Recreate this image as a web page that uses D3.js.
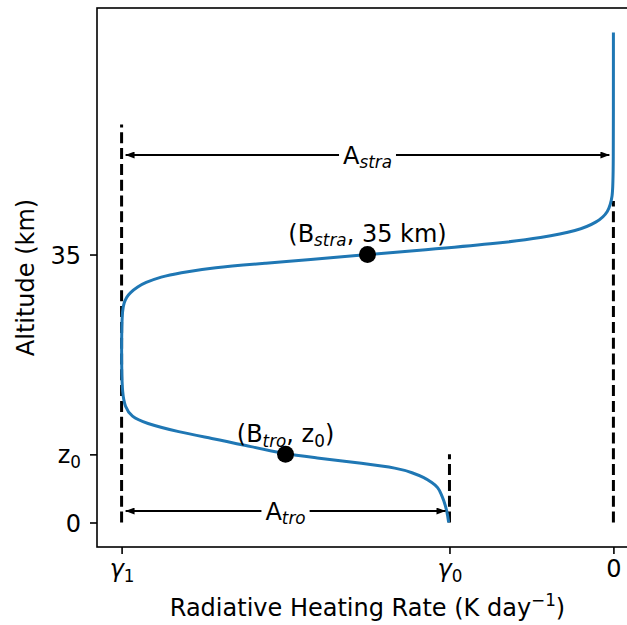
<!DOCTYPE html>
<html>
<head>
<meta charset="utf-8">
<script src="https://cdn.jsdelivr.net/npm/d3@7"></script>
<style>
body { margin: 0; background: #fff; }
text { font-family: "DejaVu Sans", sans-serif; fill: #000; }
</style>
</head>
<body>
<div id="chart"></div>
<script>
// Heating rate profile (altitude in km, rate in K/day)
let altitude = [0, 1.5, 2.9, 3.7, 4.6, 5.2, 5.9, 6.5, 7.1, 7.7, 8.5, 8.9, 10.1, 11.0, 11.8, 13.0,
    13.8, 15.1, 16.9, 20, 25, 27.8, 28.7, 29.4, 30.0, 30.8, 31.3, 32.1, 32.6, 33.3, 33.9, 34.3,
    35.0, 35.6, 36.4, 37.2, 38.1, 39.2, 40.5, 42.6, 45, 64];
let heatingRate = [-1.005, -1.015, -1.035, -1.05, -1.07, -1.105, -1.157, -1.225, -1.315, -1.52,
    -1.83, -2.0, -2.25, -2.45, -2.65, -2.86, -2.94, -2.98, -2.995, -3.0, -3.0, -2.995, -2.985,
    -2.97, -2.95, -2.90, -2.86, -2.76, -2.65, -2.45, -2.10, -1.87, -1.5, -1.16, -0.73, -0.43,
    -0.22, -0.10, -0.03, -0.005, 0, 0];

// Ticks (value + label with optional subscript)
let rateTicks = [-3, -1, 0];
let rateTickText = [["γ", "1"], ["γ", "0"], ["0", ""]];
let altTicks = [0, 8.9, 35];
let altTickText = [["0", ""], ["z", "0"], ["35", ""]];

// Dashed reference lines: rate and top altitude
let refRates = [-3, -1, 0];
let refTops = [52, 8.9, 42];

// Double arrows for A_tro and A_stra
let spanFrom = [-3, -3];
let spanTo = [-1, 0];
let spanAlt = [1.5, 48];
let spanMid = [-2, -1.5];
let spanNames = ["tro", "stra"];

// Marked points B_tro and B_stra
let pointRate = [-2, -1.5];
let pointAlt = [8.9, 35];

const WIDTH = 627, HEIGHT = 625, FS = 24;
let margin = {top: 8, left: 97, right: -11, bottom: 78};
let plot_w = WIDTH - margin.left - margin.right;
let plot_h = HEIGHT - margin.top - margin.bottom;

let svg = d3.select("#chart")
    .append("svg")
    .attr("width", WIDTH)
    .attr("height", HEIGHT)
    .append("g")
    .attr("transform", `translate(${margin.left}, ${margin.top})`);

let x = d3.scaleLinear().domain([-3.15, 0.15]).range([0, plot_w]);
let y = d3.scaleLinear().domain([-3.2, 67.2]).range([plot_h, 0]);

// write text with subscript / superscript pieces
function mathText(sel, parts, fs) {
    let shift = 0;
    sel.style("font-size", fs + "px");
    parts.forEach(function(p) {
        if (!p.t) return;
        let target = p.sub ? 0.2 * fs : (p.sup ? -0.4 * fs : 0);
        sel.append("tspan")
            .attr("dy", target - shift)
            .style("font-size", (p.sub || p.sup) ? (fs * 0.7) + "px" : fs + "px")
            .style("font-style", p.it ? "italic" : "normal")
            .text(p.t);
        shift = target;
    });
}

svg.append("defs").append("marker")
    .attr("id", "head")
    .attr("viewBox", "0 -3.5 9 7")
    .attr("refX", 9).attr("refY", 0)
    .attr("markerWidth", 9).attr("markerHeight", 7)
    .attr("markerUnits", "userSpaceOnUse")
    .attr("orient", "auto-start-reverse")
    .append("path").attr("d", "M0,-3.5L9,0L0,3.5Z").attr("fill", "#000");

// Axes
let xAxis = svg.append("g")
    .attr("transform", `translate(0, ${plot_h})`)
    .call(d3.axisBottom(x).tickValues(rateTicks).tickSize(7).tickPadding(7).tickFormat(""));
let yAxis = svg.append("g")
    .call(d3.axisLeft(y).tickValues(altTicks).tickSize(7).tickPadding(9).tickFormat(""));
svg.selectAll(".domain").remove();
svg.selectAll(".tick line").attr("stroke", "#000").attr("stroke-width", 1.6);

xAxis.selectAll(".tick text").each(function(d, i) {
    let t = d3.select(this).attr("dy", null).attr("y", 30);
    mathText(t, [{t: rateTickText[i][0], it: i < 2}, {t: rateTickText[i][1], sub: true}], FS);
});
yAxis.selectAll(".tick text").each(function(d, i) {
    let t = d3.select(this).attr("dy", null).attr("y", 8.5);
    mathText(t, [{t: altTickText[i][0]}, {t: altTickText[i][1], sub: true}], FS);
});

// Frame
svg.append("rect")
    .attr("width", plot_w).attr("height", plot_h)
    .attr("fill", "none").attr("stroke", "#000").attr("stroke-width", 1.6);

// Axis labels
let xlab = svg.append("text")
    .attr("x", plot_w / 2).attr("y", plot_h + 69)
    .style("text-anchor", "middle");
mathText(xlab, [{t: "Radiative Heating Rate (K day"}, {t: "−1", sup: true}, {t: ")"}], FS);

svg.append("text")
    .attr("transform", `translate(${-63}, ${plot_h / 2}) rotate(-90)`)
    .style("text-anchor", "middle")
    .style("font-size", FS + "px")
    .text("Altitude (km)");

// Dashed reference lines
svg.selectAll(".ref").data(refRates).enter()
    .append("line")
    .attr("x1", function(d) { return x(d); })
    .attr("x2", function(d) { return x(d); })
    .attr("y1", y(0))
    .attr("y2", function(d, i) { return y(refTops[i]); })
    .attr("stroke", "#000").attr("stroke-width", 3)
    .attr("stroke-dasharray", "11,4.8");

// Profile
let profile = altitude.map(function(z, i) { return {z: z, v: heatingRate[i]}; });
svg.append("path")
    .datum(profile)
    .attr("fill", "none")
    .attr("stroke", "#1f77b4")
    .attr("stroke-width", 3)
    .attr("d", d3.line()
        .x(function(d) { return x(d.v); })
        .y(function(d) { return y(d.z); })
        .curve(d3.curveBasis));

// Span arrows with boxed labels
spanFrom.forEach(function(f, i) {
    svg.append("line")
        .attr("x1", x(f) + 4).attr("x2", x(spanTo[i]) - 4)
        .attr("y1", y(spanAlt[i])).attr("y2", y(spanAlt[i]))
        .attr("stroke", "#000").attr("stroke-width", 2)
        .attr("marker-start", "url(#head)")
        .attr("marker-end", "url(#head)");
    let g = svg.append("g");
    let t = g.append("text")
        .attr("x", x(spanMid[i])).attr("y", y(spanAlt[i]) + 8.5)
        .style("text-anchor", "middle");
    mathText(t, [{t: "A"}, {t: spanNames[i], sub: true, it: true}], FS);
    let bb = t.node().getBBox();
    g.insert("rect", "text")
        .attr("x", bb.x - 4).attr("y", bb.y - 2)
        .attr("width", bb.width + 8).attr("height", bb.height + 4)
        .attr("fill", "#fff");
});

// Points and their labels
svg.selectAll(".pt").data(pointRate).enter()
    .append("circle")
    .attr("cx", function(d) { return x(d); })
    .attr("cy", function(d, i) { return y(pointAlt[i]); })
    .attr("r", 8.5)
    .attr("fill", "#000");

let lab1 = svg.append("text")
    .attr("x", x(pointRate[0])).attr("y", y(pointAlt[0]) - 12)
    .style("text-anchor", "middle");
mathText(lab1, [{t: "(B"}, {t: "tro", sub: true, it: true}, {t: ", z"}, {t: "0", sub: true}, {t: ")"}], FS);

let lab2 = svg.append("text")
    .attr("x", x(pointRate[1])).attr("y", y(pointAlt[1]) - 13)
    .style("text-anchor", "middle");
mathText(lab2, [{t: "(B"}, {t: "stra", sub: true, it: true}, {t: ", 35 km)"}], FS);
</script>
</body>
</html>
